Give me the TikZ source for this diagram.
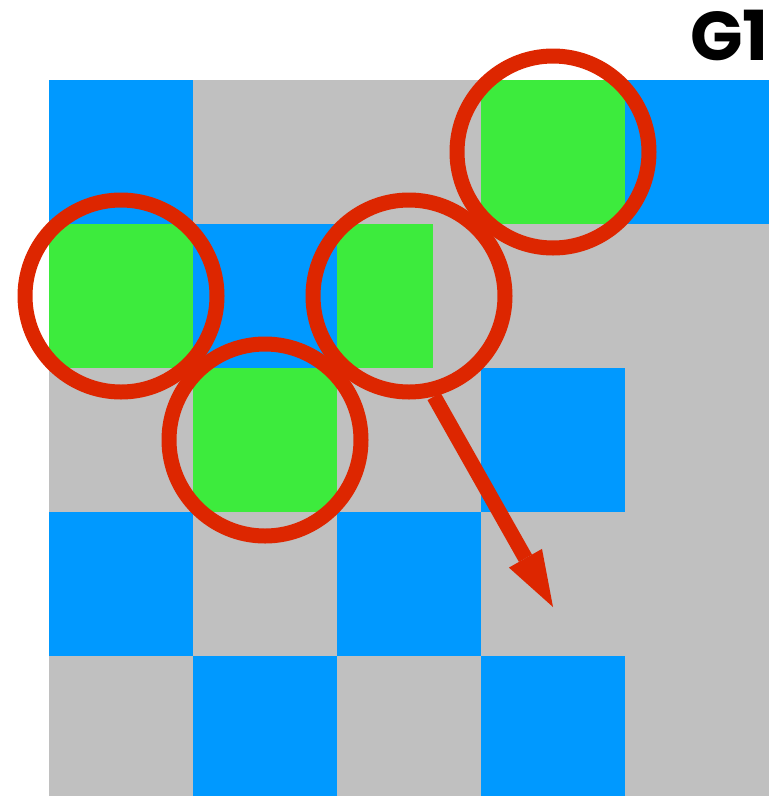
\documentclass[tikz,border=0pt]{standalone}
\usepackage{fontspec}
\setmainfont{Poppins}
\usetikzlibrary{arrows.meta}
\definecolor{tileblue}{RGB}{0,153,255}
\definecolor{tilegray}{RGB}{192,192,192}
\definecolor{tilegreen}{RGB}{61,235,61}
\definecolor{markred}{RGB}{221,38,0}

\begin{document}
\begin{tikzpicture}[x=144pt, y=-144pt,
  ring/.style={circle, draw=markred, line width=15pt, minimum size=192pt, inner sep=0pt},
  pointer/.style={draw=markred, line width=15pt, -{Triangle[length=56pt, width=38pt, line width=0pt]}}]
\useasboundingbox (-0.3403,-0.5556) rectangle (5,4.9722);
\fill[tilegray] (0,0) rectangle (5,5);
% row 0
\fill[tileblue] (0,0) rectangle (1,1);
\fill[tilegreen] (3,0) rectangle (4,1);
\fill[tileblue] (4,0) rectangle (5,1);
% row 1
\fill[tilegreen] (0,1) rectangle (1,2);
\fill[tileblue] (1,1) rectangle (2,2);
\fill[tilegreen] (2,1) rectangle (2.6667,2);
% row 2
\fill[tilegreen] (1,2) rectangle (2,3);
\fill[tileblue] (3,2) rectangle (4,3);
% row 3
\fill[tileblue] (0,3) rectangle (1,4);
\fill[tileblue] (2,3) rectangle (3,4);
% row 4
\fill[tileblue] (1,4) rectangle (2,5);
\fill[tileblue] (3,4) rectangle (4,5);

\node[ring] (c1) at (0.5,1.5) {};
\node[ring] (c2) at (1.5,2.5) {};
\node[ring] (c3) at (2.5,1.5) {};
\node[ring] (c4) at (3.5,0.5) {};
\coordinate (tip) at (3.5,3.6597);
\draw[pointer] (c3.-76) -- (tip);

\node[anchor=base east, inner sep=0pt, font=\fontsize{69}{69}\selectfont\bfseries] (title) at (5,-0.1389) {G1};
\end{tikzpicture}
\end{document}
